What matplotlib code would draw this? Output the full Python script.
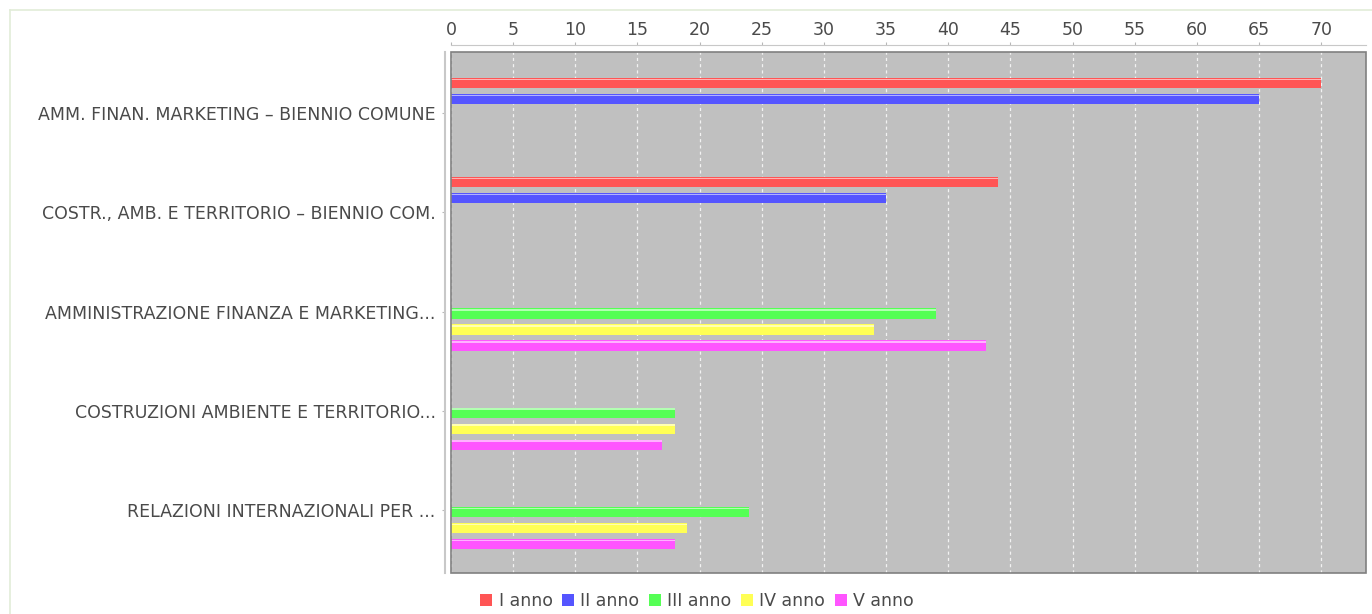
import matplotlib
matplotlib.use("Agg")
import matplotlib.pyplot as plt
from matplotlib.patches import Rectangle, Patch

categories = [
    "AMM. FINAN. MARKETING – BIENNIO COMUNE",
    "COSTR., AMB. E TERRITORIO – BIENNIO COM.",
    "AMMINISTRAZIONE FINANZA E MARKETING...",
    "COSTRUZIONI AMBIENTE E TERRITORIO...",
    "RELAZIONI INTERNAZIONALI PER ...",
]
series_names = ["I anno", "II anno", "III anno", "IV anno", "V anno"]
anno_I = [70, 44, 0, 0, 0]
anno_II = [65, 35, 0, 0, 0]
anno_III = [0, 0, 39, 18, 24]
anno_IV = [0, 0, 34, 18, 19]
anno_V = [0, 0, 43, 17, 18]
series_values = [anno_I, anno_II, anno_III, anno_IV, anno_V]
colors = ["#FF5555", "#5555FF", "#55FF55", "#FFFF55", "#FF55FF"]
x_ticks = list(range(0, 75, 5))

W, H = 1372, 614
fig = plt.figure(figsize=(W / 100, H / 100), dpi=100)
fig.patch.set_facecolor("white")

# outer light border
fig.add_artist(plt.Line2D([10 / W, 1], [1 - 10 / H, 1 - 10 / H], color="#e2ecd8", lw=1.2))
fig.add_artist(plt.Line2D([10 / W, 10 / W], [0, 1 - 10 / H], color="#e2ecd8", lw=1.2))

left, right, top, bottom = 451, 1366, 52, 573
ax = fig.add_axes([left / W, 1 - bottom / H, (right - left) / W, (bottom - top) / H])
ax.set_facecolor("#C0C0C0")

step = 0.161
bar_h = 0.102
shift = 0.02
n = len(series_values)
for k, (vals, col) in enumerate(zip(series_values, colors)):
    ys = [i + (k - (n - 1) / 2) * step + shift for i in range(len(categories))]
    for y, v in zip(ys, vals):
        if v <= 0:
            continue
        ax.barh(y, v, height=bar_h, color=col, edgecolor="none", zorder=3)
        ax.barh(y - bar_h * 0.36, v, height=bar_h * 0.14, color="white", alpha=0.55,
                edgecolor="none", zorder=4)

ax.set_xlim(0, 73.6)
ax.set_ylim(4.635, -0.615)

fs = 12.5
ax.xaxis.set_ticks_position("top")
ax.xaxis.set_label_position("top")
ax.set_xticks(x_ticks)
ax.set_xticklabels([str(t) for t in x_ticks])
ax.tick_params(axis="x", which="both", direction="out", length=2.2, width=0.8,
               color="#b8b8b8", labelsize=fs, labelcolor="#4a4a4a", pad=2.5)
ax.set_yticks(range(len(categories)))
ax.set_yticklabels(categories)
ax.tick_params(axis="y", direction="out", length=2.5, width=0.8, color="#b8b8b8",
               labelsize=fs, labelcolor="#4a4a4a", pad=4)

ax.grid(axis="x", color="white", linestyle=(0, (2.5, 2.5)), linewidth=0.9, alpha=0.8, zorder=1)
ax.set_axisbelow(True)

for s in ["right", "bottom"]:
    ax.spines[s].set_visible(False)
ax.spines["top"].set_position(("outward", 5))
ax.spines["top"].set_color("#c8c8c8")
ax.spines["left"].set_position(("outward", 4.5))
ax.spines["left"].set_color("#c8c8c8")
ax.spines["left"].set_linewidth(1.5)

ax.add_patch(Rectangle((0, 0), 1, 1, transform=ax.transAxes, fill=False,
                       edgecolor="#808080", lw=1.2, zorder=6, clip_on=False))

handles = [Patch(facecolor=c, edgecolor="none") for c in colors]
leg = fig.legend(handles, series_names, loc="center", bbox_to_anchor=(697 / W, 1 - 601 / H),
                 ncol=5, frameon=False, fontsize=fs, handlelength=0.7, handleheight=0.7,
                 handletextpad=0.35, columnspacing=0.55)
for t in leg.get_texts():
    t.set_color("#4a4a4a")

fig.savefig("out.png", dpi=100)
